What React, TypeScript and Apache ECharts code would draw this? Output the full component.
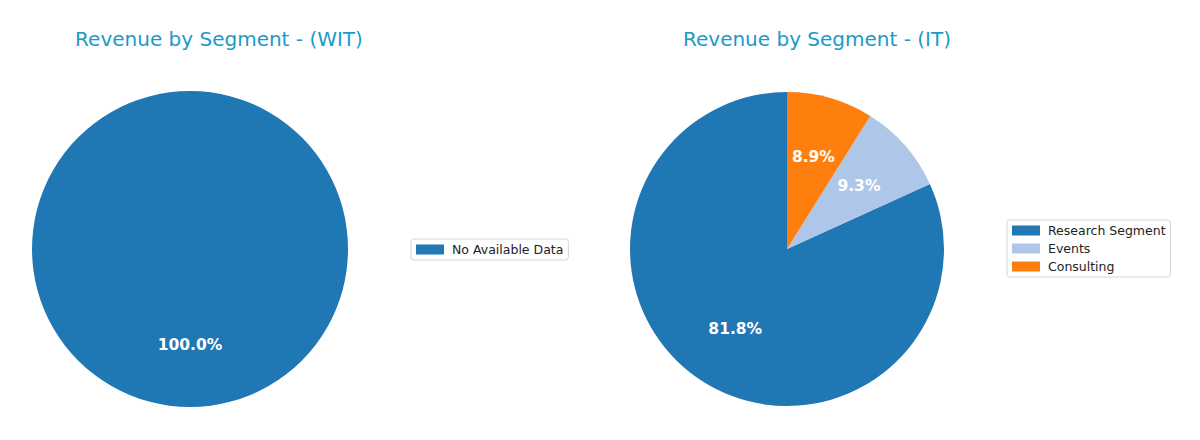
import React, { useEffect, useRef } from "react";
import * as echarts from "echarts";

const leftTitle = "Revenue by Segment - (WIT)";
const rightTitle = "Revenue by Segment - (IT)";
const leftNames = ["No Available Data"];
const leftValues = [100];
const rightNames = ["Research Segment", "Events", "Consulting"];
const rightValues = [81.8, 9.3, 8.9];
const leftColors = ["#1f77b4"];
const rightColors = ["#1f77b4", "#aec7e8", "#ff7f0e"];

const FONT = "DejaVu Sans";

function pct(p: any) {
  return p.percent.toFixed(1) + "%";
}

function pieSeries(names: string[], values: number[], colors: string[], center: number[], r: number) {
  const data = names.map((n, i) => ({ name: n, value: values[i], itemStyle: { color: colors[i] } }));
  return [
    {
      type: "pie",
      center,
      radius: [0, r],
      startAngle: 90,
      clockwise: false,
      percentPrecision: 1,
      label: { show: false },
      labelLine: { show: false },
      emphasis: { disabled: true },
      itemStyle: { borderWidth: 0 },
      data,
    },
    {
      type: "pie",
      center,
      radius: [r * 0.18, r],
      startAngle: 90,
      clockwise: false,
      percentPrecision: 1,
      silent: true,
      label: {
        show: true,
        position: "inside",
        formatter: pct,
        color: "#ffffff",
        fontWeight: "bold",
        fontSize: 15.5,
        fontFamily: FONT,
      },
      labelLine: { show: false },
      emphasis: { disabled: true },
      itemStyle: { color: "rgba(0,0,0,0)", borderWidth: 0 },
      data: names.map((n, i) => ({ name: n, value: values[i] })),
    },
  ];
}

export default function App() {
  const ref = useRef<HTMLDivElement>(null);
  useEffect(() => {
    document.body.style.margin = "0";
    const chart = echarts.init(ref.current!, null, { renderer: "svg" });
    const titleStyle = { color: "#1a9ac8", fontSize: 20, fontWeight: "normal", fontFamily: FONT };
    const legendCommon = {
      orient: "vertical",
      itemWidth: 28,
      itemHeight: 10,
      icon: "rect",
      borderColor: "#d6d6d6",
      borderWidth: 1,
      borderRadius: 3,
      backgroundColor: "#ffffff",
      selectedMode: false,
      textStyle: { color: "#222", fontSize: 12.5, fontFamily: FONT, padding: [0, 0, 0, 3] },
    };
    chart.setOption({
      animation: false,
      backgroundColor: "#ffffff",
      title: [
        { text: leftTitle, left: 219, top: 29, textAlign: "center", padding: 0, textStyle: titleStyle },
        { text: rightTitle, left: 817, top: 29, textAlign: "center", padding: 0, textStyle: titleStyle },
      ],
      legend: [
        {
          ...legendCommon,
          data: leftNames,
          left: 411,
          top: 239,
          padding: [4, 5, 4, 5],
          itemGap: 5,
        },
        {
          ...legendCommon,
          data: rightNames,
          left: 1007,
          top: 220,
          padding: [4, 5, 4, 5],
          itemGap: 5,
        },
      ],
      series: [
        ...pieSeries(leftNames, leftValues, leftColors, [190, 249], 158),
        ...pieSeries(rightNames, rightValues, rightColors, [787, 249], 157),
      ],
    });
    return () => chart.dispose();
  }, []);
  return <div ref={ref} style={{ width: 1200, height: 440 }} />;
}
